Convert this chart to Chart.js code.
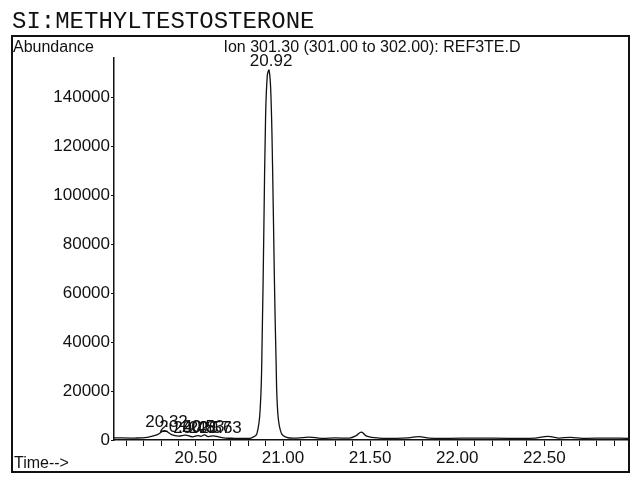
<!DOCTYPE html>
<html><head><meta charset="utf-8">
<script src="https://cdn.jsdelivr.net/npm/chart.js@4"></script>
<style>html,body{margin:0;background:#fff}canvas{display:block}</style>
</head><body>
<canvas id="c" width="641" height="479"></canvas>
<script>
// retention time (min) and abundance
const times = [20.03,20.15,20.22,20.28,20.32,20.36,20.40,20.44,20.48,20.51,20.53,20.55,20.57,20.60,20.63,20.67,20.72,20.78,20.82,20.85,20.87,20.88,20.89,20.90,20.91,20.92,20.93,20.94,20.95,20.96,20.97,20.99,21.02,21.08,21.15,21.22,21.30,21.38,21.42,21.45,21.48,21.55,21.65,21.72,21.78,21.84,21.95,22.10,22.30,22.45,22.52,22.58,22.65,22.72,22.85,22.98];
const abundance = [900,800,1100,2200,3800,2200,1600,2000,1300,1800,1500,2100,1400,1700,1300,800,700,700,900,2500,14000,40000,86000,132000,149000,151000,142000,112000,68000,33000,11000,2800,1100,800,1200,700,900,800,1800,3200,1600,800,700,900,1400,800,700,800,700,800,1500,800,1100,700,800,700];
const peakLabels = [
  {t:20.92, y:151000, s:'20.92'},
  {t:20.32, y:3800, s:'20.32'},
  {t:20.40, y:1600, s:'20.40'},
  {t:20.48, y:1300, s:'20.48'},
  {t:20.53, y:1500, s:'20.53'},
  {t:20.57, y:1400, s:'20.57'},
  {t:20.63, y:1300, s:'20.63'}
];
const yTicks = [0,20000,40000,60000,80000,100000,120000,140000];

const decor = {
  id: 'decor',
  afterDraw(chart) {
    const c = chart.ctx, x = chart.scales.x, y = chart.scales.y;
    c.save();
    c.fillStyle = '#111';
    c.font = '24px "Liberation Mono", monospace';
    c.fillText('SI:METHYLTESTOSTERONE', 12, 28);
    c.strokeStyle = '#111'; c.lineWidth = 2;
    c.strokeRect(12, 36, 617, 436);
    c.font = '16px "Liberation Sans", Arial, sans-serif';
    c.fillText('Abundance', 13, 52);
    c.textAlign = 'center';
    c.fillText('Ion 301.30 (301.00 to 302.00): REF3TE.D', 372, 52);
    c.textAlign = 'left';
    c.fillText('Time-->', 14, 468);
    c.font = '17px "Liberation Sans", Arial, sans-serif';
    c.textAlign = 'center';
    peakLabels.forEach(p => {
      c.fillText(p.s, x.getPixelForValue(p.t) + 2, y.getPixelForValue(p.y) - 4);
    });
    c.restore();
  }
};

const tickFont = {size: 17, family: '"Liberation Sans", Arial'};

new Chart(document.getElementById('c'), {
  type: 'line',
  data: {
    datasets: [{
      data: times.map((t, i) => ({x: t, y: abundance[i]})),
      borderColor: '#111', borderWidth: 1.3, pointRadius: 0, tension: 0.4, fill: false
    }]
  },
  options: {
    responsive: false, animation: false,
    layout: {padding: {left: 0, top: 58, right: 13, bottom: 0}},
    plugins: {legend: {display: false}, tooltip: {enabled: false}},
    scales: {
      x: {
        type: 'linear', min: 20.03, max: 22.98,
        afterFit: s => { s.height = 39; },
        afterBuildTicks: s => {
          const t = [];
          for (let v = 20.1; v <= 22.95; v += 0.1) t.push({value: Math.round(v * 10) / 10});
          s.ticks = t;
        },
        grid: {display: true, drawOnChartArea: false, drawTicks: true, tickLength: 6, color: '#111'},
        border: {color: '#111', width: 1.5},
        ticks: {
          color: '#111', font: tickFont, maxRotation: 0, autoSkip: false, padding: 2,
          callback: v => (Math.abs(v * 2 - Math.round(v * 2)) < 1e-6 ? v.toFixed(2) : '')
        }
      },
      y: {
        min: 0, max: 156000,
        afterFit: s => { s.width = 114; },
        afterBuildTicks: s => { s.ticks = yTicks.map(v => ({value: v})); },
        grid: {display: true, drawOnChartArea: false, drawTicks: true, tickLength: 3, color: '#111'},
        border: {color: '#111', width: 1.5},
        ticks: {color: '#111', font: tickFont, padding: 1, callback: v => String(v)}
      }
    }
  },
  plugins: [decor]
});
</script>
</body></html>
